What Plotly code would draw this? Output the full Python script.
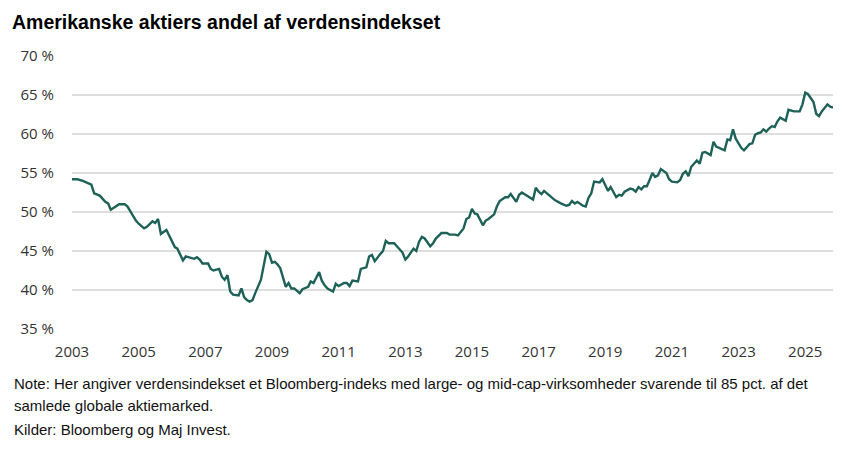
import plotly.graph_objects as go

dates = [
    "2003-01", "2003-03", "2003-05", "2003-07", "2003-08", "2003-09", "2003-11",
    "2004-01", "2004-02", "2004-03", "2004-06", "2004-08", "2004-09", "2004-12",
    "2005-01", "2005-03", "2005-04", "2005-06", "2005-07", "2005-08", "2005-09", "2005-11",
    "2006-02", "2006-03", "2006-05", "2006-06", "2006-08", "2006-09", "2006-10", "2006-11", "2006-12",
    "2007-02", "2007-03", "2007-04", "2007-06", "2007-07", "2007-08", "2007-09", "2007-10", "2007-11",
    "2008-01", "2008-02", "2008-03", "2008-04", "2008-05", "2008-06", "2008-07", "2008-09", "2008-11", "2008-12",
    "2009-01", "2009-02", "2009-03", "2009-04", "2009-06", "2009-07", "2009-08", "2009-09", "2009-11", "2009-12",
    "2010-02", "2010-03", "2010-04", "2010-06", "2010-07", "2010-08", "2010-09", "2010-11", "2010-12",
    "2011-01", "2011-03", "2011-04", "2011-05", "2011-06", "2011-08", "2011-09", "2011-11", "2011-12",
    "2012-01", "2012-02", "2012-04", "2012-05", "2012-06", "2012-07", "2012-09", "2012-10", "2012-12",
    "2013-01", "2013-02", "2013-04", "2013-05", "2013-06", "2013-07", "2013-08", "2013-10", "2013-11", "2013-12",
    "2014-02", "2014-04", "2014-05", "2014-07", "2014-08", "2014-10", "2014-11", "2014-12",
    "2015-01", "2015-02", "2015-03", "2015-05", "2015-06", "2015-07", "2015-09", "2015-10", "2015-11",
    "2016-01", "2016-02", "2016-03", "2016-05", "2016-06", "2016-07", "2016-09", "2016-11", "2016-12",
    "2017-01", "2017-02", "2017-03", "2017-05", "2017-07", "2017-09", "2017-11", "2017-12",
    "2018-01", "2018-02", "2018-03", "2018-05", "2018-06", "2018-07", "2018-08", "2018-09", "2018-11", "2018-12",
    "2019-02", "2019-03", "2019-05", "2019-06", "2019-07", "2019-08", "2019-10", "2019-11", "2019-12",
    "2020-01", "2020-02", "2020-03", "2020-04", "2020-05", "2020-06", "2020-07", "2020-08", "2020-09", "2020-11", "2020-12",
    "2021-01", "2021-03", "2021-04", "2021-05", "2021-06", "2021-07", "2021-08", "2021-10", "2021-11", "2021-12",
    "2022-01", "2022-03", "2022-04", "2022-05", "2022-06", "2022-08", "2022-09", "2022-10", "2022-11", "2022-12",
    "2023-02", "2023-03", "2023-04", "2023-05", "2023-06", "2023-07", "2023-08", "2023-09", "2023-10", "2023-11", "2023-12",
    "2024-01", "2024-02", "2024-03", "2024-04", "2024-06", "2024-07", "2024-09", "2024-11", "2024-12",
    "2025-01", "2025-02", "2025-04", "2025-05", "2025-06", "2025-07", "2025-09", "2025-10", "2025-11",
]

us_share = [
    54.2, 54.2, 54.0, 53.6, 53.5, 52.4, 52.1,
    51.3, 51.1, 50.3, 51.0, 51.0, 50.7, 48.9,
    48.5, 47.9, 48.1, 48.8, 48.6, 49.1, 47.2, 47.7,
    45.5, 45.3, 43.8, 44.3, 44.1, 44.0, 44.2, 43.9, 43.4,
    43.4, 42.7, 42.5, 42.7, 41.7, 41.3, 41.9, 39.8, 39.4,
    39.3, 40.2, 39.1, 38.7, 38.5, 38.7, 39.6, 41.3, 44.9, 44.6,
    43.5, 43.6, 43.3, 42.8, 40.4, 40.9, 40.2, 40.2, 39.6, 40.1,
    40.4, 41.1, 40.9, 42.3, 41.2, 40.6, 40.2, 39.8, 40.8,
    40.5, 40.9, 40.9, 40.5, 41.2, 41.1, 42.7, 42.9, 44.3,
    44.5, 43.7, 44.6, 45.0, 46.3, 46.0, 46.0, 45.6, 44.8,
    43.9, 44.3, 45.3, 45.0, 46.2, 46.8, 46.6, 45.6, 46.0, 46.6,
    47.3, 47.3, 47.1, 47.1, 47.0, 47.9, 49.1, 49.3,
    50.4, 49.8, 49.7, 48.3, 48.9, 49.1, 49.7, 50.7, 51.4,
    51.9, 51.9, 52.3, 51.3, 52.2, 52.5, 52.1, 51.6, 53.1,
    52.6, 52.3, 52.7, 52.1, 51.5, 51.1, 50.8, 50.9,
    51.4, 51.1, 51.3, 50.8, 50.7, 51.8, 52.4, 53.9, 53.8, 54.2,
    52.7, 53.2, 51.9, 52.2, 52.1, 52.6, 53.0, 52.9, 52.6,
    53.2, 52.9, 53.3, 53.3, 54.1, 55.0, 54.5, 54.7, 55.5, 55.0, 54.2,
    53.9, 53.8, 54.1, 54.9, 55.2, 54.6, 55.8, 56.6, 56.2, 57.6,
    57.7, 57.3, 59.0, 58.4, 58.2, 57.9, 59.3, 59.2, 60.6, 59.4,
    58.2, 57.9, 58.3, 58.7, 58.8, 59.9, 60.1, 60.2, 60.6, 60.3, 60.7,
    61.0, 60.9, 61.6, 62.1, 61.7, 63.1, 62.9, 62.9, 63.8,
    65.3, 65.1, 64.1, 62.6, 62.3, 62.9, 63.8, 63.5, 63.4,
]

y_ticks = [35, 40, 45, 50, 55, 60, 65, 70]
y_tick_labels = [f"{v} %" for v in y_ticks]
x_tick_years = [str(y) for y in range(2003, 2026, 2)]

title_text = "Amerikanske aktiers andel af verdensindekset"
note_lines = [
    "Note: Her angiver verdensindekset et Bloomberg-indeks med large- og mid-cap-virksomheder svarende til 85 pct. af det",
    "samlede globale aktiemarked.",
    "Kilder: Bloomberg og Maj Invest.",
]

fig = go.Figure()
fig.add_trace(go.Scatter(
    x=dates, y=us_share, mode="lines",
    line=dict(color="#1d6158", width=2.4, shape="linear"),
    hoverinfo="skip", showlegend=False,
))

# the page body adds an 8px offset; the figure is sized so the result fills 859x460
OFF = 8
W, H = 859 - OFF, 460 - OFF
m_l, m_r, m_t, m_b = 72 - OFF, 26, 56 - OFF, 131
plot_w = W - m_l - m_r
plot_h = H - m_t - m_b

fig.update_layout(
    width=W, height=H,
    margin=dict(l=m_l, r=m_r, t=m_t, b=m_b),
    paper_bgcolor="white", plot_bgcolor="white",
    title=dict(
        text="<b>" + title_text + "</b>",
        x=(12 - OFF) / W, xref="container", xanchor="left",
        y=1 - (22 - OFF) / H, yref="container", yanchor="middle",
        font=dict(family="Liberation Sans, Arial", size=19.5, color="#000000"),
    ),
    xaxis=dict(
        type="date",
        range=[dates[0], dates[-1]],
        tickmode="array",
        tickvals=[f"{y}-01-01" for y in x_tick_years],
        ticktext=x_tick_years,
        showgrid=False, zeroline=False, showline=False,
        ticks="outside", ticklen=9, tickcolor="rgba(0,0,0,0)",
        tickfont=dict(family="Open Sans", size=15, color="#333333"),
    ),
    yaxis=dict(
        range=[35, 70],
        tickmode="array", tickvals=y_ticks, ticktext=y_tick_labels,
        showgrid=True, gridcolor="#dedede", gridwidth=1.5,
        zeroline=False, showline=False,
        ticks="outside", ticklen=14, tickcolor="rgba(0,0,0,0)",
        tickfont=dict(family="Open Sans", size=15, color="#333333"),
    ),
)

for i, line in enumerate(note_lines):
    y_px = 383 + 23 * i - OFF
    fig.add_annotation(
        text=line, xref="paper", yref="paper",
        x=-(m_l - (12 - OFF)) / plot_w, xanchor="left",
        y=(H - m_b - y_px) / plot_h, yanchor="middle",
        showarrow=False,
        font=dict(family="Liberation Sans, Arial", size=15, color="#111111"),
    )

fig.write_html("out.html")
